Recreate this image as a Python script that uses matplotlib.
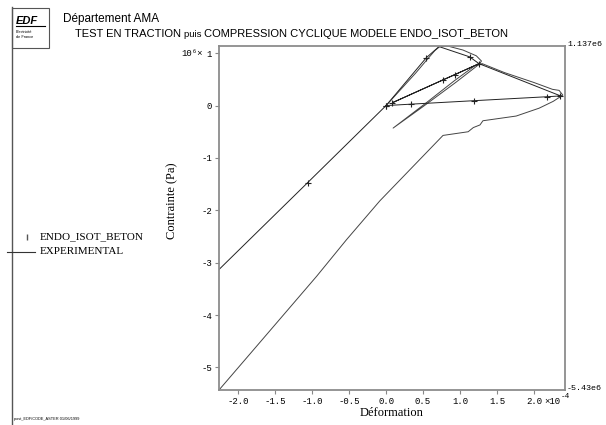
import matplotlib
matplotlib.use("Agg")
import matplotlib.pyplot as plt
from matplotlib.lines import Line2D
from matplotlib.patches import Rectangle

W, H = 606, 425

# === ENDO_ISOT_BETON (simulation) : déformation en 1e-4, contrainte en 1e6 Pa ===
sim_eps = [0.0, 0.546, 0.716, 1.13, 1.257, 0.93, 0.77, 0.086, 1.257, 2.35, 2.37,
           2.17, 1.19, 0.34, 0.0, -1.06, -2.26]
sim_sig = [0.0, 0.916, 1.126, 0.93, 0.80, 0.59, 0.49, 0.055, 0.80, 0.19, 0.185,
           0.168, 0.093, 0.027, 0.0, -1.47, -3.13]
sim_marks = [0, 1, 3, 4, 5, 6, 7, 9, 11, 12, 13, 14, 15]

# === EXPERIMENTAL ===
exp_eps = [0.0, 0.2, 0.4, 0.55, 0.66, 0.73, 0.85, 1.04, 1.22, 1.29, 1.26,
           0.95, 0.5, 0.095, 0.55, 0.92, 1.2, 1.3, 1.6, 2.0, 2.25, 2.34, 2.39, 2.37,
           2.26, 2.07, 1.76, 1.31, 1.27, 1.18, 1.11, 0.77,
           -0.085, -0.535, -0.94, -1.39, -1.84, -2.26]
exp_sig = [0.0, 0.31, 0.62, 0.87, 1.05, 1.13, 1.13, 1.06, 0.95, 0.85, 0.79,
           0.45, -0.02, -0.43, 0.06, 0.47, 0.76, 0.80, 0.63, 0.44, 0.31, 0.29, 0.2, 0.18,
           0.08, -0.05, -0.2, -0.29, -0.37, -0.42, -0.5, -0.57,
           -1.82, -2.56, -3.26, -4.0, -4.74, -5.43]

x_ticks = [-2.0, -1.5, -1.0, -0.5, 0.0, 0.5, 1.0, 1.5, 2.0]
y_ticks = [-5, -4, -3, -2, -1, 0, 1]
x_lim = (-2.26, 2.42)
y_lim = (-5.43, 1.137)

MONO = ["Liberation Mono", "DejaVu Sans Mono"]
SERIF = ["Liberation Serif", "DejaVu Serif"]
SANS = ["Liberation Sans", "DejaVu Sans"]


def fx(x):
    return x / W


def fy(y):
    return 1 - y / H


fig = plt.figure(figsize=(W / 100, H / 100), dpi=100)
fig.patch.set_facecolor("white")

ax = fig.add_axes([fx(219), fy(390), (565 - 219) / W, (390 - 46) / H])
ax.plot(exp_eps, exp_sig, color="#444444", lw=0.7)
ax.plot(sim_eps, sim_sig, color="#222222", lw=0.7, marker="+", ms=5, mew=0.8,
        markevery=sim_marks)

ax.set_xlim(*x_lim)
ax.set_ylim(*y_lim)
ax.set_xticks(x_ticks)
ax.set_xticklabels([f"{v:.1f}" for v in x_ticks])
ax.set_yticks(y_ticks)
ax.set_yticklabels([str(v) for v in y_ticks])
for lab in ax.get_xticklabels() + ax.get_yticklabels():
    lab.set_family(MONO)
    lab.set_fontsize(6.5)
ax.tick_params(direction="out", length=3, width=0.8, color="#888888", pad=2)
for sp in ax.spines.values():
    sp.set_color("#8c8c8c")
    sp.set_linewidth(1.3)

ax.set_xlabel("Déformation", family=SERIF, fontsize=9, labelpad=1)
ax.set_ylabel("Contrainte (Pa)", family=SERIF, fontsize=9)
ax.yaxis.set_label_coords(-0.118, 0.55)

# facteurs d'échelle et bornes
fig.text(fx(181), fy(53), "10⁶×", family=MONO, fontsize=6.5, va="center")
fig.text(fx(544), fy(401), "×10", family=MONO, fontsize=6.5, va="center")
fig.text(fx(561), fy(397), "-4", family=MONO, fontsize=5.5, va="center")
fig.text(fx(567), fy(44), "1.137e6", family=MONO, fontsize=6, va="center")
fig.text(fx(567), fy(389), "-5.43e6", family=MONO, fontsize=6, va="center")

# cadre et logo
fig.add_artist(Line2D([fx(12), fx(12)], [fy(7), fy(425)], color="#555555", lw=1.0))
fig.add_artist(Rectangle((fx(12), fy(48)), (49 - 12) / W, (48 - 8) / H,
                         fill=False, edgecolor="#555555", lw=0.8))
fig.text(fx(16), fy(24), "EDF", family=SANS, fontsize=8, weight="bold",
         style="italic")
fig.add_artist(Line2D([fx(16), fx(45)], [fy(26), fy(26)], color="black", lw=0.8))
fig.text(fx(16), fy(33), "Electricité", family=SANS, fontsize=2.8)
fig.text(fx(16), fy(38), "de France", family=SANS, fontsize=2.8)

# titres
fig.text(fx(63), fy(22), "Département AMA", family=SANS, fontsize=8.5,
         va="baseline")
r = fig.canvas.get_renderer()
x = 75
for s, size in [("TEST EN TRACTION ", 8), ("puis ", 6.8),
                ("COMPRESSION CYCLIQUE MODELE ENDO_ISOT_BETON", 8)]:
    t = fig.text(fx(x), fy(37), s, family=SANS, fontsize=size, va="baseline")
    x += t.get_window_extent(r).width

# légende
fig.add_artist(Line2D([fx(27)], [fy(237)], marker="|", ms=4, color="#555555",
                      ls="none"))
fig.text(fx(40), fy(237), "ENDO_ISOT_BETON", family=SERIF, fontsize=8, va="center")
fig.add_artist(Line2D([fx(7), fx(35)], [fy(252), fy(252)], color="#333333", lw=0.8))
fig.text(fx(40), fy(252), "EXPERIMENTAL", family=SERIF, fontsize=8, va="center")

fig.text(fx(14), fy(419), "post_EDF/CODE_ASTER 01/06/1999", family=SANS,
         fontsize=2.8, va="center")

fig.savefig("out.png", dpi=100)
